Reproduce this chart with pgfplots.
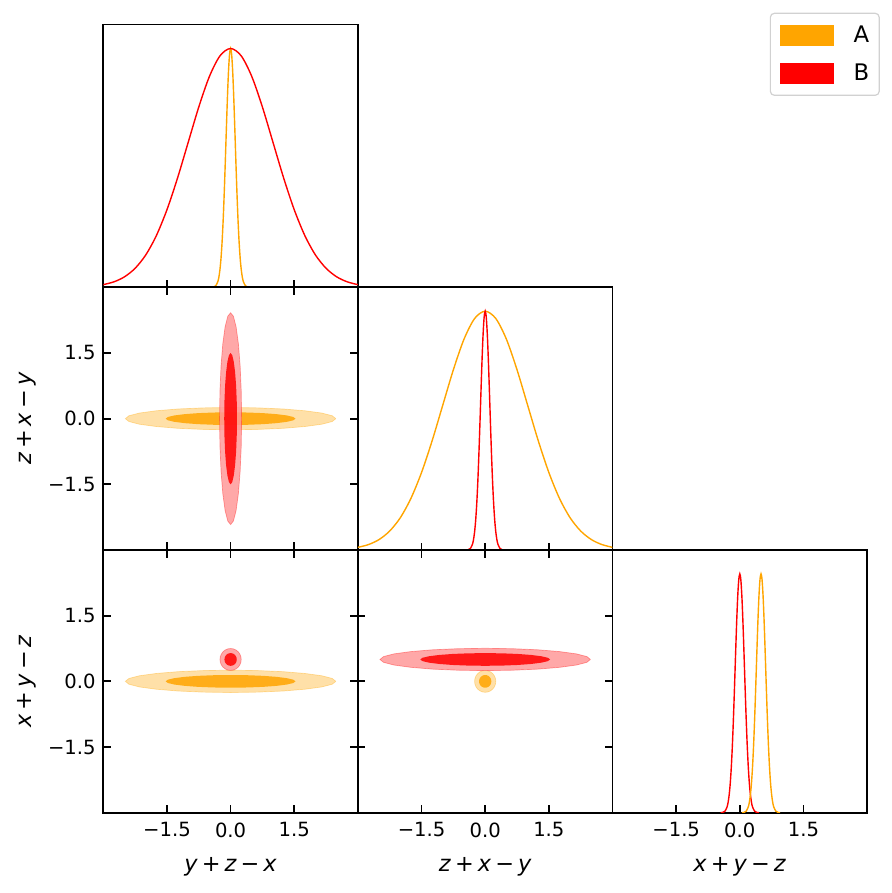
\documentclass[border=0pt]{standalone}
\usepackage{fontspec}
\setmainfont{DejaVu Sans}
\usepackage{pgfplots}
\usepackage{pgfplotstable}
\pgfplotsset{compat=1.18}

\definecolor{cA}{RGB}{255,165,0}
\definecolor{cB}{RGB}{255,0,0}
\definecolor{cAo}{RGB}{255,219,153}
\definecolor{cBo}{RGB}{255,153,153}

\newcommand{\lab}[3]{\textit{#1}\kern2pt+\kern2pt\textit{#2}\kern2pt−\kern2pt\textit{#3}}

% 1D marginals
\pgfplotstableread[row sep=\\]{x y\\
-3 0.0111\\ -2.75 0.0228\\ -2.5 0.0439\\ -2.25 0.0796\\ -2 0.1353\\ -1.75 0.2163\\ -1.5 0.3247\\ -1.25 0.4578\\ -1 0.6065\\ -0.75 0.7548\\ -0.5 0.8825\\ -0.25 0.9692\\ 0 1\\
0.25 0.9692\\ 0.5 0.8825\\ 0.75 0.7548\\ 1 0.6065\\ 1.25 0.4578\\ 1.5 0.3247\\ 1.75 0.2163\\ 2 0.1353\\ 2.25 0.0796\\ 2.5 0.0439\\ 2.75 0.0228\\ 3 0.0111\\}\Wide

\pgfplotstableread[row sep=\\]{x y\\
-0.45 0.0002\\ -0.4 0.0013\\ -0.35 0.0063\\ -0.3 0.0243\\ -0.275 0.0439\\ -0.25 0.0756\\ -0.225 0.1234\\ -0.2 0.1915\\ -0.175 0.2821\\ -0.15 0.3947\\ -0.125 0.5243\\ -0.1 0.6615\\ -0.075 0.7926\\ -0.05 0.9019\\ -0.025 0.9745\\ 0 1\\
0.025 0.9745\\ 0.05 0.9019\\ 0.075 0.7926\\ 0.1 0.6615\\ 0.125 0.5243\\ 0.15 0.3947\\ 0.175 0.2821\\ 0.2 0.1915\\ 0.225 0.1234\\ 0.25 0.0756\\ 0.275 0.0439\\ 0.3 0.0243\\ 0.35 0.0063\\ 0.4 0.0013\\ 0.45 0.0002\\}\NarrowZero

\pgfplotstableread[row sep=\\]{x y\\
0.05 0.0002\\ 0.1 0.0013\\ 0.15 0.0063\\ 0.2 0.0243\\ 0.225 0.0439\\ 0.25 0.0756\\ 0.275 0.1234\\ 0.3 0.1915\\ 0.325 0.2821\\ 0.35 0.3947\\ 0.375 0.5243\\ 0.4 0.6615\\ 0.425 0.7926\\ 0.45 0.9019\\ 0.475 0.9745\\ 0.5 1\\
0.525 0.9745\\ 0.55 0.9019\\ 0.575 0.7926\\ 0.6 0.6615\\ 0.625 0.5243\\ 0.65 0.3947\\ 0.675 0.2821\\ 0.7 0.1915\\ 0.725 0.1234\\ 0.75 0.0756\\ 0.775 0.0439\\ 0.8 0.0243\\ 0.85 0.0063\\ 0.9 0.0013\\ 0.95 0.0002\\}\NarrowHalf

% 2D contours
\pgfplotstableread[row sep=\\]{x y\\
2.48 0\\ 2.396 0.066\\ 2.148 0.128\\ 1.753 0.18\\ 1.24 0.221\\ 0.642 0.246\\ 0 0.255\\ -0.642 0.246\\ -1.24 0.221\\ -1.753 0.18\\ -2.148 0.128\\ -2.396 0.066\\ -2.48 0\\ -2.396 -0.066\\ -2.148 -0.128\\ -1.753 -0.18\\ -1.24 -0.221\\ -0.642 -0.246\\ 0 -0.255\\ 0.642 -0.246\\ 1.24 -0.221\\ 1.753 -0.18\\ 2.148 -0.128\\ 2.396 -0.066\\ 2.48 0\\}\AwideOut

\pgfplotstableread[row sep=\\]{x y\\
1.53 0\\ 1.478 0.038\\ 1.325 0.073\\ 1.082 0.103\\ 0.765 0.126\\ 0.396 0.14\\ 0 0.145\\ -0.396 0.14\\ -0.765 0.126\\ -1.082 0.103\\ -1.325 0.073\\ -1.478 0.038\\ -1.53 0\\ -1.478 -0.038\\ -1.325 -0.073\\ -1.082 -0.103\\ -0.765 -0.126\\ -0.396 -0.14\\ 0 -0.145\\ 0.396 -0.14\\ 0.765 -0.126\\ 1.082 -0.103\\ 1.325 -0.073\\ 1.478 -0.038\\ 1.53 0\\}\AwideIn

\pgfplotstableread[row sep=\\]{x y\\
0.26 0\\ 0.251 0.627\\ 0.225 1.21\\ 0.184 1.711\\ 0.13 2.096\\ 0.067 2.338\\ 0 2.42\\ -0.067 2.338\\ -0.13 2.096\\ -0.184 1.711\\ -0.225 1.21\\ -0.251 0.627\\ -0.26 0\\ -0.251 -0.627\\ -0.225 -1.21\\ -0.184 -1.711\\ -0.13 -2.096\\ -0.067 -2.338\\ 0 -2.42\\ 0.067 -2.338\\ 0.13 -2.096\\ 0.184 -1.711\\ 0.225 -1.21\\ 0.251 -0.627\\ 0.26 0\\}\BtallOut

\pgfplotstableread[row sep=\\]{x y\\
0.15 0\\ 0.145 0.389\\ 0.13 0.75\\ 0.106 1.061\\ 0.075 1.299\\ 0.039 1.449\\ 0 1.5\\ -0.039 1.449\\ -0.075 1.299\\ -0.106 1.061\\ -0.13 0.75\\ -0.145 0.389\\ -0.15 0\\ -0.145 -0.389\\ -0.13 -0.75\\ -0.106 -1.061\\ -0.075 -1.299\\ -0.039 -1.449\\ 0 -1.5\\ 0.039 -1.449\\ 0.075 -1.299\\ 0.106 -1.061\\ 0.13 -0.75\\ 0.145 -0.389\\ 0.15 0\\}\BtallIn

\pgfplotstableread[row sep=\\]{x y\\
0.25 0.5\\ 0.242 0.565\\ 0.217 0.625\\ 0.177 0.677\\ 0.125 0.717\\ 0.065 0.742\\ 0 0.75\\ -0.065 0.742\\ -0.125 0.717\\ -0.177 0.677\\ -0.217 0.625\\ -0.242 0.565\\ -0.25 0.5\\ -0.242 0.435\\ -0.217 0.375\\ -0.177 0.323\\ -0.125 0.283\\ -0.065 0.258\\ 0 0.25\\ 0.065 0.258\\ 0.125 0.283\\ 0.177 0.323\\ 0.217 0.375\\ 0.242 0.435\\ 0.25 0.5\\}\BdotOut

\pgfplotstableread[row sep=\\]{x y\\
0.145 0.5\\ 0.14 0.538\\ 0.126 0.573\\ 0.103 0.603\\ 0.073 0.626\\ 0.038 0.64\\ 0 0.645\\ -0.038 0.64\\ -0.073 0.626\\ -0.103 0.603\\ -0.126 0.573\\ -0.14 0.538\\ -0.145 0.5\\ -0.14 0.462\\ -0.126 0.427\\ -0.103 0.397\\ -0.073 0.374\\ -0.038 0.36\\ 0 0.355\\ 0.038 0.36\\ 0.073 0.374\\ 0.103 0.397\\ 0.126 0.427\\ 0.14 0.462\\ 0.145 0.5\\}\BdotIn

\pgfplotstableread[row sep=\\]{x y\\
2.48 0.5\\ 2.396 0.566\\ 2.148 0.628\\ 1.753 0.68\\ 1.24 0.721\\ 0.642 0.746\\ 0 0.755\\ -0.642 0.746\\ -1.24 0.721\\ -1.753 0.68\\ -2.148 0.628\\ -2.396 0.566\\ -2.48 0.5\\ -2.396 0.434\\ -2.148 0.372\\ -1.753 0.32\\ -1.24 0.279\\ -0.642 0.254\\ 0 0.245\\ 0.642 0.254\\ 1.24 0.279\\ 1.753 0.32\\ 2.148 0.372\\ 2.396 0.434\\ 2.48 0.5\\}\BwideOut

\pgfplotstableread[row sep=\\]{x y\\
1.53 0.5\\ 1.478 0.538\\ 1.325 0.573\\ 1.082 0.603\\ 0.765 0.626\\ 0.396 0.64\\ 0 0.645\\ -0.396 0.64\\ -0.765 0.626\\ -1.082 0.603\\ -1.325 0.573\\ -1.478 0.538\\ -1.53 0.5\\ -1.478 0.462\\ -1.325 0.427\\ -1.082 0.397\\ -0.765 0.374\\ -0.396 0.36\\ 0 0.355\\ 0.396 0.36\\ 0.765 0.374\\ 1.082 0.397\\ 1.325 0.427\\ 1.478 0.462\\ 1.53 0.5\\}\BwideIn

\pgfplotstableread[row sep=\\]{x y\\
0.25 0\\ 0.242 0.065\\ 0.217 0.125\\ 0.177 0.177\\ 0.125 0.217\\ 0.065 0.242\\ 0 0.25\\ -0.065 0.242\\ -0.125 0.217\\ -0.177 0.177\\ -0.217 0.125\\ -0.242 0.065\\ -0.25 0\\ -0.242 -0.065\\ -0.217 -0.125\\ -0.177 -0.177\\ -0.125 -0.217\\ -0.065 -0.242\\ 0 -0.25\\ 0.065 -0.242\\ 0.125 -0.217\\ 0.177 -0.177\\ 0.217 -0.125\\ 0.242 -0.065\\ 0.25 0\\}\AdotOut

\pgfplotstableread[row sep=\\]{x y\\
0.145 0\\ 0.14 0.038\\ 0.126 0.073\\ 0.103 0.103\\ 0.073 0.126\\ 0.038 0.14\\ 0 0.145\\ -0.038 0.14\\ -0.073 0.126\\ -0.103 0.103\\ -0.126 0.073\\ -0.14 0.038\\ -0.145 0\\ -0.14 -0.038\\ -0.126 -0.073\\ -0.103 -0.103\\ -0.073 -0.126\\ -0.038 -0.14\\ 0 -0.145\\ 0.038 -0.14\\ 0.073 -0.126\\ 0.103 -0.103\\ 0.126 -0.073\\ 0.14 -0.038\\ 0.145 0\\}\AdotIn

\pgfplotsset{
  base/.style={scale only axis, width=127.3pt, height=131.35pt,
    xmin=-3, xmax=3, anchor=north west,
    axis line style={line width=0.9pt, black},
    tick style={line width=0.9pt, black},
    major tick length=3.75pt, tick align=inside,
    xtick={-1.5,0,1.5}, ytick={-1.5,0,1.5},
    xticklabels={,,}, yticklabels={,,},
    ticklabel style={font=\fontsize{9.8}{11}\selectfont},
    label style={font=\fontsize{11.2}{13}\selectfont}},
  diag/.style={base, ymin=0, ymax=1.1, ytick=\empty, xtick pos=left},
  offd/.style={base, ymin=-3, ymax=3},
  xlab/.style={xticklabels={−1.5,0.0,1.5}, xlabel={#1},
    xlabel style={at={(axis description cs:0.5,-0.2246)}, anchor=base},
    xticklabel style={yshift=-1.4pt}},
  ylab/.style={yticklabels={−1.5,0.0,1.5}, ylabel={#1},
    ylabel style={at={(axis description cs:-0.2812,0.5)}, anchor=base},
    yticklabel style={xshift=-0.3pt}},
  line1d/.style={line width=0.7pt, smooth, forget plot},
  outA/.style={fill=cAo, fill opacity=0.85, draw=cA, draw opacity=0.35, line width=0.35pt, forget plot},
  inA/.style={fill=cA, fill opacity=0.85, draw=none, forget plot},
  outB/.style={fill=cBo, fill opacity=0.85, draw=cB, draw opacity=0.35, line width=0.35pt, forget plot},
  inB/.style={fill=cB, fill opacity=0.85, draw=none, forget plot},
}

\begin{document}
\begin{tikzpicture}
\path[use as bounding box] (0pt,0pt) rectangle (446pt,-446.5pt);

% (1,1)
\begin{axis}[diag, at={(51.65pt,-12.3pt)},
  legend style={at={(3.0500,1.0453)}, anchor=north east, draw=black!18, line width=0.6pt,
    rounded corners=2pt, fill=white, font=\fontsize{11.4}{13}\selectfont,
    inner xsep=5pt, inner ysep=5.75pt, row sep=8.3pt, nodes={inner sep=0pt}},
  legend cell align=left]
\addlegendimage{legend image code/.code={\fill[cA, sharp corners] (0pt,-5pt) rectangle (26pt,5pt); \path (36pt,0pt);}}
\addlegendentry{A}
\addlegendimage{legend image code/.code={\fill[cB, sharp corners] (0pt,-5pt) rectangle (26pt,5pt); \path (36pt,0pt);}}
\addlegendentry{B}
\addplot[cA, line1d] table {\NarrowZero};
\addplot[cB, line1d] table {\Wide};
\end{axis}

% (2,1)
\begin{axis}[offd, ylab={\lab{z}{x}{y}}, at={(51.65pt,-143.65pt)}]
\addplot[outA] table {\AwideOut};
\addplot[inA] table {\AwideIn};
\addplot[outB] table {\BtallOut};
\addplot[inB] table {\BtallIn};
\end{axis}

% (2,2)
\begin{axis}[diag, at={(178.95pt,-143.65pt)}]
\addplot[cA, line1d] table {\Wide};
\addplot[cB, line1d] table {\NarrowZero};
\end{axis}

% (3,1)
\begin{axis}[offd, xlab={\lab{y}{z}{x}}, ylab={\lab{x}{y}{z}}, at={(51.65pt,-275pt)}]
\addplot[outA] table {\AwideOut};
\addplot[inA] table {\AwideIn};
\addplot[outB] table {\BdotOut};
\addplot[inB] table {\BdotIn};
\end{axis}

% (3,2)
\begin{axis}[offd, xlab={\lab{z}{x}{y}}, at={(178.95pt,-275pt)}]
\addplot[outA] table {\AdotOut};
\addplot[inA] table {\AdotIn};
\addplot[outB] table {\BwideOut};
\addplot[inB] table {\BwideIn};
\end{axis}

% (3,3)
\begin{axis}[diag, xlab={\lab{x}{y}{z}}, at={(306.25pt,-275pt)}]
\addplot[cB, line1d] table {\NarrowZero};
\addplot[cA, line1d] table {\NarrowHalf};
\end{axis}
\end{tikzpicture}
\end{document}
